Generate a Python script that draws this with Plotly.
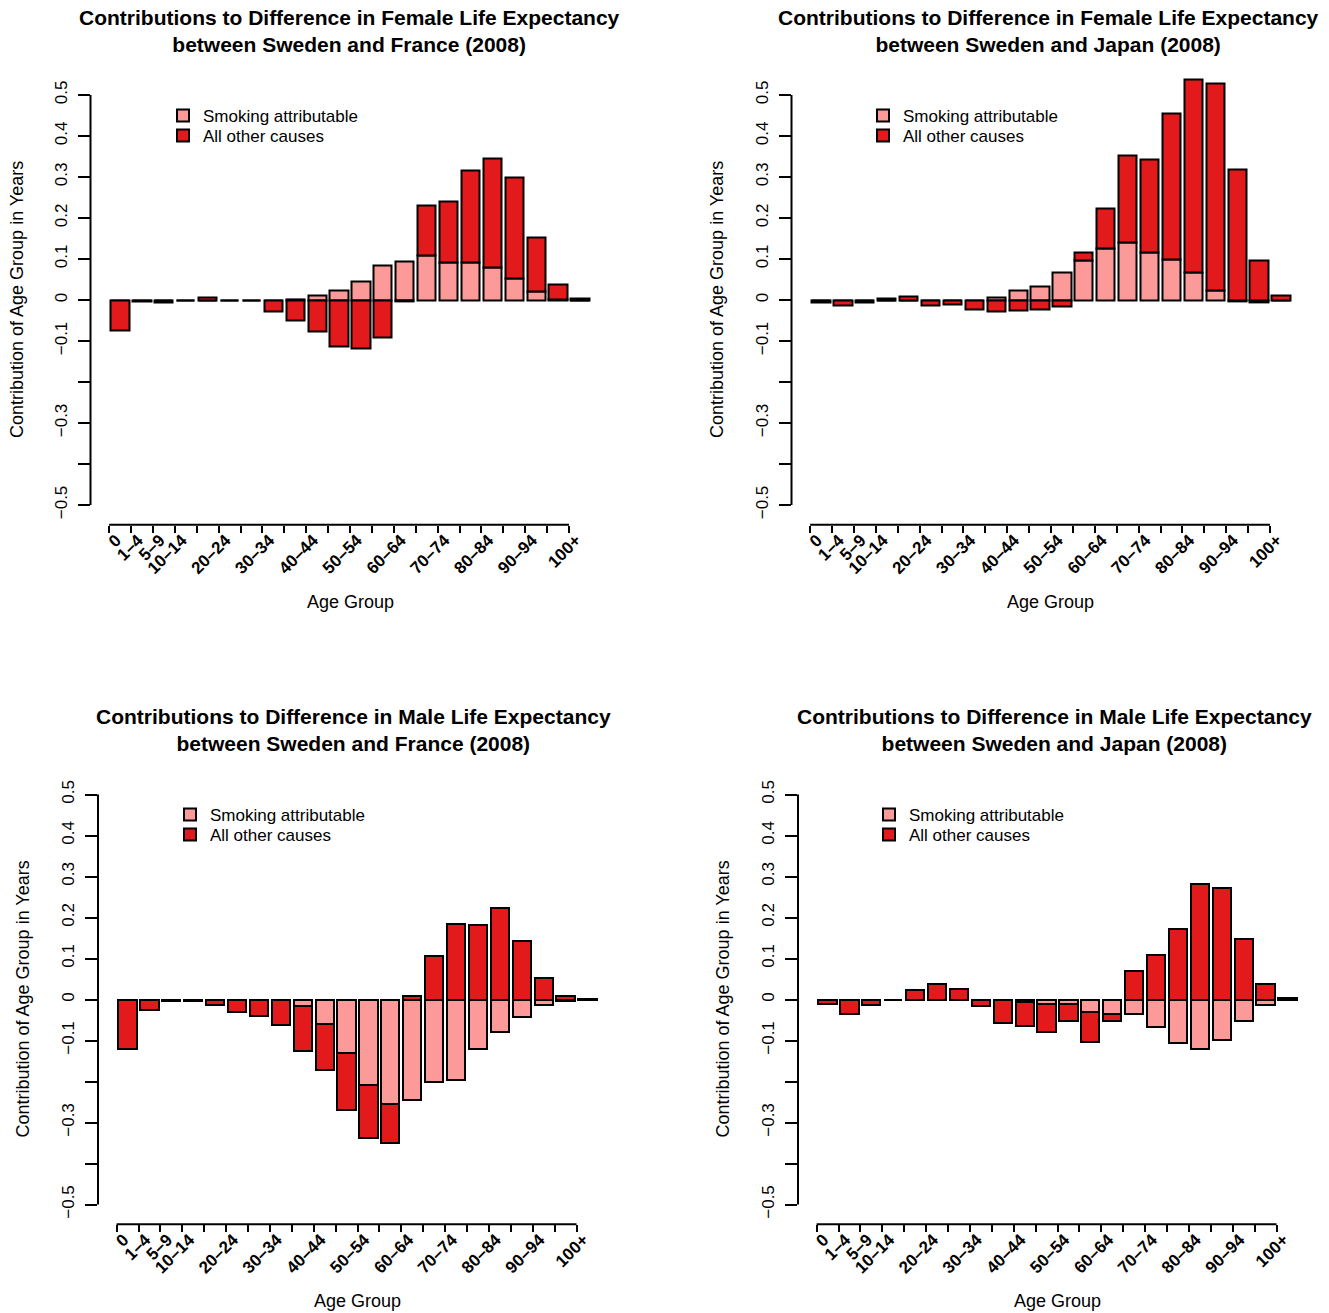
import plotly.graph_objects as go

# Age groups (abridged life table)
age_groups = ["0", "1–4", "5–9", "10–14", "15–19", "20–24", "25–29", "30–34",
              "35–39", "40–44", "45–49", "50–54", "55–59", "60–64", "65–69",
              "70–74", "75–79", "80–84", "85–89", "90–94", "95–99", "100+"]

# Contributions (years) of each age group to the life-expectancy gap
female_france_smoking = [0.0, 0.0, 0.0, 0.0, 0.0, 0.0, 0.0, 0.0, 0.002, 0.012, 0.024,
                         0.046, 0.084, 0.094, 0.108, 0.091, 0.091, 0.079, 0.053, 0.020,
                         0.002, 0.0]
female_france_other = [-0.073, -0.003, -0.005, -0.002, 0.007, -0.002, -0.002, -0.027,
                       -0.049, -0.077, -0.114, -0.118, -0.090, -0.004, 0.122, 0.149,
                       0.224, 0.266, 0.245, 0.132, 0.035, 0.003]

female_japan_smoking = [0.0, 0.0, 0.0, 0.0, 0.0, 0.0, 0.0, 0.0, 0.006, 0.024, 0.034,
                        0.068, 0.096, 0.125, 0.141, 0.116, 0.099, 0.067, 0.024, -0.003,
                        -0.006, 0.0]
female_japan_other = [-0.006, -0.012, -0.006, 0.004, 0.009, -0.013, -0.010, -0.024,
                      -0.028, -0.026, -0.023, -0.015, 0.020, 0.099, 0.212, 0.228,
                      0.355, 0.471, 0.505, 0.319, 0.096, 0.012]

male_france_smoking = [0.0, 0.0, 0.0, 0.0, 0.0, 0.0, 0.0, 0.0, -0.015, -0.059, -0.130,
                       -0.209, -0.254, -0.244, -0.201, -0.197, -0.121, -0.080, -0.042,
                       -0.014, -0.003, 0.0]
male_france_other = [-0.120, -0.026, -0.004, -0.003, -0.012, -0.030, -0.041, -0.061,
                     -0.110, -0.112, -0.140, -0.128, -0.096, 0.008, 0.106, 0.185,
                     0.181, 0.224, 0.142, 0.052, 0.009, 0.001]

male_japan_smoking = [0.0, 0.0, 0.0, 0.0, 0.0, 0.0, 0.0, 0.0, -0.002, -0.005, -0.011,
                      -0.011, -0.030, -0.034, -0.034, -0.068, -0.107, -0.121, -0.099,
                      -0.053, -0.014, -0.001]
male_japan_other = [-0.010, -0.034, -0.012, -0.001, 0.023, 0.037, 0.025, -0.016,
                    -0.054, -0.059, -0.068, -0.042, -0.073, -0.019, 0.069, 0.110,
                    0.171, 0.281, 0.273, 0.147, 0.037, 0.005]

y_ticks = [-0.5, -0.4, -0.3, -0.2, -0.1, 0.0, 0.1, 0.2, 0.3, 0.4, 0.5]
y_tick_text = ["−0.5", "", "−0.3", "", "−0.1", "0", "0.1", "0.2", "0.3", "0.4", "0.5"]

series_names = ["Smoking attributable", "All other causes"]
SMOKE_COLOR = "#FB9A99"
OTHER_COLOR = "#E31A1C"

W, H = 1329, 1313
FONT = "Liberation Sans, Arial, sans-serif"
BAR_STEP = 21.9      # px per age group
Y_UNIT = 410.0       # px per year of contribution
X_RANGE = [-1.35, 22.5]
Y_RANGE = [-0.548, 0.56]

panels = [
    dict(sex="Female", country="France", smoking=female_france_smoking,
         other=female_france_other, axis_x=90.5, zero_y=300.0,
         title_x=349, title_y=31, ytitle_x=17, xtitle_x=350, xtitle_y=602,
         leg_x=183, leg_y=115),
    dict(sex="Female", country="Japan", smoking=female_japan_smoking,
         other=female_japan_other, axis_x=791.5, zero_y=300.0,
         title_x=1048, title_y=31, ytitle_x=717, xtitle_x=1050, xtitle_y=602,
         leg_x=883, leg_y=115),
    dict(sex="Male", country="France", smoking=male_france_smoking,
         other=male_france_other, axis_x=98.0, zero_y=999.5,
         title_x=354, title_y=730, ytitle_x=23, xtitle_x=357, xtitle_y=1301,
         leg_x=190, leg_y=814),
    dict(sex="Male", country="Japan", smoking=male_japan_smoking,
         other=male_japan_other, axis_x=798.0, zero_y=999.5,
         title_x=1054, title_y=730, ytitle_x=723, xtitle_x=1057, xtitle_y=1301,
         leg_x=889, leg_y=814),
]


def px_x(v):
    return v / W


def px_y(v):
    return 1 - v / H


positions = list(range(len(age_groups)))
tick_pos = [i - 0.5 for i in positions]
tick_text = [a if (i < 4 or i % 2 == 1) else "" for i, a in enumerate(age_groups)]

fig = go.Figure()
layout = dict(
    width=W, height=H, margin=dict(l=0, r=0, t=0, b=0),
    paper_bgcolor="white", plot_bgcolor="white",
    barmode="relative", bargap=0, showlegend=True,
    font=dict(family=FONT, color="black"),
    annotations=[], shapes=[],
)

leg_idx = 0
for k, p in enumerate(panels, start=1):
    sfx = "" if k == 1 else str(k)
    xa, ya = "x" + sfx, "y" + sfx

    for row, (name, vals, col) in enumerate(
            ((series_names[0], p["smoking"], SMOKE_COLOR),
             (series_names[1], p["other"], OTHER_COLOR))):
        leg_idx += 1
        leg = "legend" if leg_idx == 1 else f"legend{leg_idx}"
        fig.add_trace(go.Bar(
            x=positions, y=vals, width=0.833, name=name, showlegend=True,
            marker=dict(color=col, line=dict(color="black", width=2)),
            xaxis=xa, yaxis=ya, legend=leg, hoverinfo="skip",
        ))
        # one legend entry per row, stacked 20 px apart
        layout[leg] = dict(
            x=px_x(p["leg_x"] - 20), y=px_y(p["leg_y"] + 20 * row - 17),
            xanchor="left", yanchor="top", bgcolor="rgba(0,0,0,0)",
            font=dict(family=FONT, size=17), itemwidth=30, visible=True,
        )

    x0 = p["axis_x"]
    x1 = x0 + (X_RANGE[1] - X_RANGE[0]) * BAR_STEP
    top = p["zero_y"] - Y_RANGE[1] * Y_UNIT
    bot = p["zero_y"] - Y_RANGE[0] * Y_UNIT

    layout["xaxis" + sfx] = dict(
        domain=[px_x(x0), px_x(x1)], range=X_RANGE, anchor=ya,
        showgrid=False, zeroline=False, showline=False,
        tickmode="array", tickvals=tick_pos, ticktext=tick_text,
        ticks="outside", ticklen=7, tickwidth=2, tickcolor="black",
        tickangle=-45, tickfont=dict(family=FONT, size=17, weight="bold"),
        ticklabelstandoff=-9, ticklabelshift=7,
    )
    layout["yaxis" + sfx] = dict(
        domain=[px_y(bot), px_y(top)], range=Y_RANGE, anchor=xa,
        showgrid=False, zeroline=False, showline=False,
        tickmode="array", tickvals=y_ticks, ticktext=y_tick_text,
        ticks="outside", ticklen=12, tickwidth=2, tickcolor="black",
        tickangle=-90, tickfont=dict(family=FONT, size=17),
        ticklabelstandoff=4,
    )
    # axis lines spanning only the ticked extent
    layout["shapes"].append(dict(
        type="line", xref=xa + " domain", yref=ya, x0=0, x1=0, y0=-0.5, y1=0.5,
        line=dict(color="black", width=2)))
    layout["shapes"].append(dict(
        type="line", xref=xa, yref=ya + " domain", x0=tick_pos[0], x1=tick_pos[-1],
        y0=0, y1=0, line=dict(color="black", width=2)))

    layout["annotations"] += [
        dict(text=f"<b>Contributions to Difference in {p['sex']} Life Expectancy<br>"
                  f"between Sweden and {p['country']} (2008)</b>",
             x=px_x(p["title_x"]), y=px_y(p["title_y"]), xref="paper", yref="paper",
             xanchor="center", yanchor="middle", showarrow=False,
             font=dict(family=FONT, size=21)),
        dict(text="Age Group", x=px_x(p["xtitle_x"]), y=px_y(p["xtitle_y"]),
             xref="paper", yref="paper", xanchor="center", yanchor="middle",
             showarrow=False, font=dict(family=FONT, size=18)),
        dict(text="Contribution of Age Group in Years", textangle=-90,
             x=px_x(p["ytitle_x"]), y=px_y(p["zero_y"]),
             xref="paper", yref="paper", xanchor="center", yanchor="middle",
             showarrow=False, font=dict(family=FONT, size=18)),
    ]

fig.update_layout(**layout)
fig.write_html("out.html")
